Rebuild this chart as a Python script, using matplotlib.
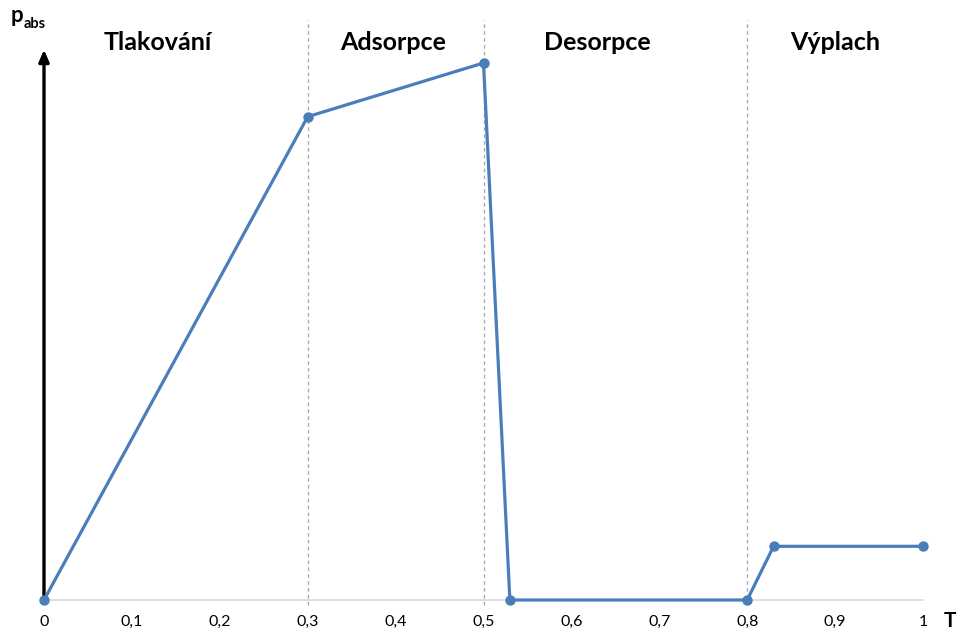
import numpy as np
import matplotlib
matplotlib.use('Agg')
from matplotlib import pyplot as plt
from matplotlib.ticker import FuncFormatter

plt.rcParams['font.family'] = ['Lato', 'DejaVu Sans']

# cycle data (relative time vs. absolute pressure)
t = [0, 0.3, 0.5, 0.53, 0.8, 0.83, 1]
p_abs = [0, 0.9, 1.0, 0, 0, 0.1, 0.1]

phase_names = ['Tlakování', 'Adsorpce', 'Desorpce', 'Výplach']
phase_centers = [0.129, 0.397, 0.629, 0.90]
phase_bounds = [0.3, 0.5, 0.8]
xticks = [0, 0.1, 0.2, 0.3, 0.4, 0.5, 0.6, 0.7, 0.8, 0.9, 1]

fig = plt.figure(figsize=(9.6, 6.32), dpi=100)
ax = fig.add_axes([44/960, 32/632, (923-44)/960, (600-20)/632])
ax.set_xlim(0, 1)
ax.set_ylim(0, 1.08)

for b in phase_bounds:
    ax.plot([b, b], [-0.01, 1.08], color='#a6a6a6', lw=0.9, ls=(0, (3, 2.5)), clip_on=False, zorder=1)

ax.plot([0, 1], [0, 0], color='#d9d9d9', lw=1.2, clip_on=False, zorder=1)

ax.plot(t, p_abs, color='#4a7ebb', lw=2.3, marker='o', ms=6.5, clip_on=False, zorder=3)

# y axis arrow
ax.annotate('', xy=(0, 1.03), xytext=(0, 0), xycoords='data',
            arrowprops=dict(arrowstyle='-|>,head_length=0.7,head_width=0.3', color='black', lw=2.4),
            annotation_clip=False, zorder=2)

for name, c in zip(phase_names, phase_centers):
    ax.text(c, 1.039, name, ha='center', va='center', fontsize=18, fontweight='bold')

ax.text(-0.038, 1.088, 'p', ha='left', va='center', fontsize=16, fontweight='bold')
ax.text(-0.023, 1.072, 'abs', ha='left', va='center', fontsize=10.5, fontweight='bold')
ax.text(1.031, -0.040, 'T', ha='center', va='center', fontsize=15, fontweight='bold')

ax.set_xticks(xticks)
ax.xaxis.set_major_formatter(FuncFormatter(lambda v, pos: ('%g' % v).replace('.', ',')))
ax.tick_params(axis='x', length=0, pad=11, labelsize=11.5)
ax.set_yticks([])
for s in ax.spines.values():
    s.set_visible(False)

fig.savefig('out.png', dpi=100)
